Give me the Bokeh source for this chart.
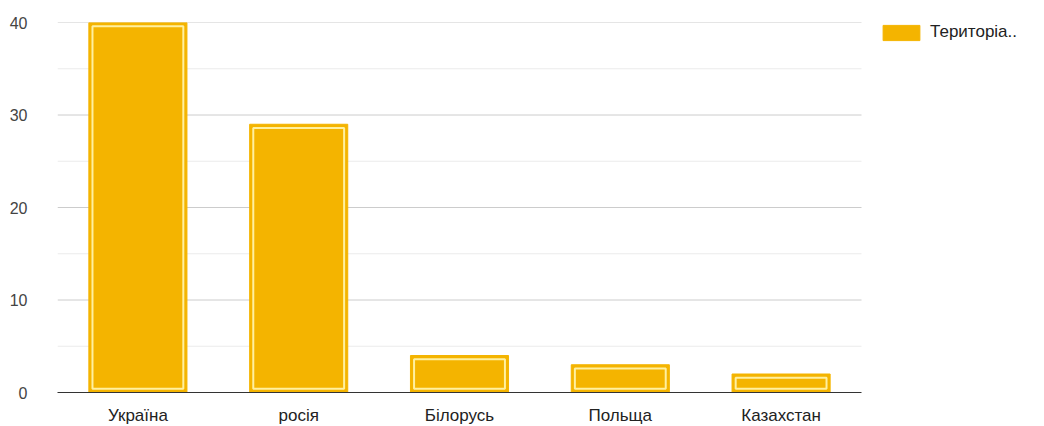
from bokeh.plotting import figure
from bokeh.models import ColumnDataSource, Legend, LegendItem, FixedTicker, Range1d
from bokeh.embed import file_html
from bokeh.resources import INLINE

countries = ["Україна", "росія", "Білорусь", "Польща", "Казахстан"]
counts = [40, 29, 4, 3, 2]
series_name = "Територіа.."
y_ticks = [0, 10, 20, 30, 40]
y_minor = [5, 15, 25, 35]

BAR_COLOR = "#f4b400"
INNER_COLOR = "#fff0a0"
FONT = "Liberation Sans"

n = len(countries)
xs = [i + 0.5 for i in range(n)]          # category centres
PLOT_W = 804                               # px used by the categories
FRAME_W = 979                              # frame incl. legend room
x_end = n * FRAME_W / PLOT_W

src = ColumnDataSource(dict(x=xs, top=counts))

p = figure(x_range=Range1d(0, x_end), y_range=Range1d(0, 40),
           frame_width=FRAME_W, frame_height=370,
           output_backend="svg", toolbar_location=None,
           min_border_left=57, min_border_right=0, min_border_top=22,
           min_border_bottom=30)
p.outline_line_color = None

# grid lines limited to the category area
p.xgrid.grid_line_color = None
p.ygrid.grid_line_color = None
p.segment(x0=0, x1=n, y0=y_minor, y1=y_minor, line_color="#ebebeb", line_width=1)
p.segment(x0=0, x1=n, y0=y_ticks[1:], y1=y_ticks[1:], line_color="#cccccc", line_width=1)

outer = p.vbar(x="x", top="top", bottom=0, width=0.61, source=src,
               fill_color=BAR_COLOR, line_color=BAR_COLOR, line_width=1)

# inner pale outline (inset)
inset_y = 0.4
inner_src = ColumnDataSource(dict(x=xs, top=[c - inset_y for c in counts]))
p.vbar(x="x", top="top", bottom=inset_y, width=0.565, source=inner_src,
       fill_color=None, line_color=INNER_COLOR, line_width=2)

# y axis
p.yaxis.ticker = FixedTicker(ticks=y_ticks, minor_ticks=y_minor)
p.yaxis.axis_line_color = None
p.yaxis.major_tick_line_color = None
p.yaxis.minor_tick_line_color = None
p.yaxis.major_label_standoff = 24
p.yaxis.major_label_text_font = FONT
p.yaxis.major_label_text_font_size = "16px"
p.yaxis.major_label_text_color = "#444444"

# x axis (categories)
p.xaxis.ticker = FixedTicker(ticks=xs)
p.xaxis.major_label_overrides = {x: c for x, c in zip(xs, countries)}
p.xaxis.bounds = (0, n)
p.xaxis.axis_line_color = "#333333"
p.xaxis.axis_line_width = 1
p.xaxis.major_tick_line_color = None
p.xaxis.minor_tick_line_color = None
p.xaxis.major_label_standoff = 7
p.xaxis.major_label_text_font = FONT
p.xaxis.major_label_text_font_size = "17px"
p.xaxis.major_label_text_color = "#222222"

legend = Legend(items=[LegendItem(label=series_name, renderers=[outer])],
                location=(PLOT_W + 17, 350), orientation="vertical",
                margin=0, padding=0, border_line_color=None,
                background_fill_alpha=0,
                glyph_width=46, glyph_height=19, label_standoff=6,
                label_text_font=FONT, label_text_font_size="17px",
                label_text_color="#222222", spacing=0)
p.add_layout(legend)

open("out.html", "w").write(file_html(p, INLINE))
